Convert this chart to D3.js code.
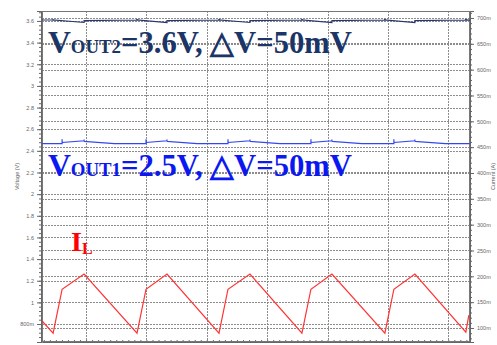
<!DOCTYPE html>
<html>
<head>
<meta charset="utf-8">
<script src="https://cdn.jsdelivr.net/npm/d3@7"></script>
<style>
  body { margin: 0; background: #fff; }
  svg { display: block; }
</style>
</head>
<body>
<div id="chart"></div>
<script>
// tick values for the two y axes
const voltTicks = [0.8, 1.0, 1.2, 1.4, 1.6, 1.8, 2.0, 2.2, 2.4, 2.6, 2.8, 3.0, 3.2, 3.4, 3.6];
const currTicks = [100, 150, 200, 250, 300, 350, 400, 450, 500, 550, 600, 650, 700]; // mA
const timeTicks = [1, 2, 3, 4, 5, 6, 7]; // us

// inductor current IL (mA)
const ilTime = [0.272, 0.454, 0.603, 0.967, 1.844, 1.993, 2.341, 3.202, 3.351, 3.715,
  4.576, 4.725, 5.073, 5.950, 6.099, 6.447, 7.291, 7.341];
const ilValue = [113.5, 90, 175, 204.5, 90, 175, 204.5, 90, 175, 204.5,
  90, 175, 204.5, 90, 175, 204.5, 92, 125];

// VOUT2 (V)
const vout2Time = [0.272,
  0.454, 0.454, 0.454, 0.454,
  0.967, 0.967, 0.967, 0.967,
  1.844, 1.844, 1.844, 1.844,
  2.341, 2.341, 2.341, 2.341,
  3.202, 3.202, 3.202, 3.202,
  3.715, 3.715, 3.715, 3.715,
  4.576, 4.576, 4.576, 4.576,
  5.073, 5.073, 5.073, 5.073,
  5.950, 5.950, 5.950, 5.950,
  6.447, 6.447, 6.447, 6.447,
  7.291, 7.291, 7.291, 7.291,
  7.358];
const vout2Value = [3.609,
  3.609, 3.618, 3.602, 3.609,
  3.586, 3.595, 3.580, 3.603,
  3.609, 3.619, 3.602, 3.609,
  3.586, 3.595, 3.580, 3.603,
  3.609, 3.619, 3.602, 3.609,
  3.586, 3.595, 3.580, 3.603,
  3.609, 3.619, 3.602, 3.609,
  3.586, 3.595, 3.580, 3.603,
  3.609, 3.619, 3.602, 3.609,
  3.586, 3.595, 3.580, 3.603,
  3.609, 3.619, 3.602, 3.609,
  3.607];

// VOUT1 (V)
const vout1Time = [0.272,
  0.603, 0.603, 0.603, 0.603, 0.967, 0.967, 0.967, 0.967, 1.47,
  1.993, 1.993, 1.993, 1.993, 2.341, 2.341, 2.341, 2.341, 2.84,
  3.351, 3.351, 3.351, 3.351, 3.715, 3.715, 3.715, 3.715, 4.21,
  4.725, 4.725, 4.725, 4.725, 5.073, 5.073, 5.073, 5.073, 5.57,
  6.099, 6.099, 6.099, 6.099, 6.447, 6.447, 6.447, 6.447, 6.95,
  7.358];
const vout1Value = [2.467,
  2.467, 2.508, 2.470, 2.477, 2.493, 2.505, 2.486, 2.488, 2.467,
  2.467, 2.508, 2.470, 2.477, 2.493, 2.505, 2.486, 2.488, 2.467,
  2.467, 2.508, 2.470, 2.477, 2.493, 2.505, 2.486, 2.488, 2.467,
  2.467, 2.508, 2.470, 2.477, 2.493, 2.505, 2.486, 2.488, 2.467,
  2.467, 2.508, 2.470, 2.477, 2.493, 2.505, 2.486, 2.488, 2.467,
  2.466];

const W = 497, H = 345;
const pL = 42, pR = 470, pT = 11, pB = 342;

const svg = d3.select("#chart").append("svg")
  .attr("width", W).attr("height", H);

const x = d3.scaleLinear().domain([0.27, 7.36]).range([pL, pR]);
const yV = d3.scaleLinear().domain([0.634, 3.692]).range([pB, pT]);
const yI = d3.scaleLinear().domain([72.9, 713.5]).range([pB, pT]);

// grid
const grid = svg.append("g")
  .attr("stroke", "#8c8c8c").attr("stroke-width", 1)
  .attr("stroke-dasharray", "2,1").attr("shape-rendering", "crispEdges");
grid.selectAll(".gv").data(voltTicks).join("line")
  .attr("x1", pL).attr("x2", pR)
  .attr("y1", d => Math.round(yV(d)) + 0.5).attr("y2", d => Math.round(yV(d)) + 0.5);
grid.selectAll(".gi").data(currTicks).join("line")
  .attr("x1", pL).attr("x2", pR)
  .attr("y1", d => Math.round(yI(d)) + 0.5).attr("y2", d => Math.round(yI(d)) + 0.5);
grid.selectAll(".gt").data(timeTicks).join("line")
  .attr("y1", pT).attr("y2", pB)
  .attr("x1", d => Math.round(x(d)) + 0.5).attr("x2", d => Math.round(x(d)) + 0.5);

// axes
const fmtV = d => d < 1 ? Math.round(d * 1000) + "m" : d3.format("~g")(d);
svg.append("g")
  .attr("transform", `translate(${pL - 1},0)`)
  .call(d3.axisLeft(yV).tickValues(voltTicks).tickFormat(fmtV).tickSize(4).tickPadding(3));
svg.append("g")
  .attr("transform", `translate(${pL - 1},0)`)
  .call(d3.axisLeft(yV).tickValues(d3.range(0.68, 3.69, 0.04)).tickFormat("").tickSize(2));

svg.append("g")
  .attr("transform", `translate(${pR},0)`)
  .call(d3.axisRight(yI).tickValues(currTicks).tickFormat(d => d + "m").tickSize(4).tickPadding(3));
svg.append("g")
  .attr("transform", `translate(${pR},0)`)
  .call(d3.axisRight(yI).tickValues(d3.range(80, 711, 10)).tickFormat("").tickSize(2));

svg.append("g")
  .attr("transform", `translate(0,${pB})`)
  .call(d3.axisTop(x).tickValues(d3.range(0.3, 7.36, 0.1)).tickFormat("").tickSize(2));

svg.selectAll(".domain").attr("stroke", "#666");
svg.selectAll(".tick line").attr("stroke", "#666");
svg.selectAll(".tick text")
  .attr("font-family", "Liberation Sans, sans-serif")
  .attr("font-size", 5.5).attr("fill", "#666");

// frame
svg.append("rect")
  .attr("x", pL + 0.5).attr("y", pT + 0.5)
  .attr("width", pR - pL - 1).attr("height", pB - pT - 1)
  .attr("fill", "none").attr("stroke", "#777").attr("stroke-width", 1);

// axis titles
svg.append("text")
  .attr("transform", `translate(19,${(pT + pB) / 2}) rotate(-90)`)
  .attr("text-anchor", "middle")
  .attr("font-family", "Liberation Sans, sans-serif").attr("font-size", 5.5).attr("fill", "#666")
  .text("Voltage (V)");
svg.append("text")
  .attr("transform", `translate(495,${(pT + pB) / 2}) rotate(-90)`)
  .attr("text-anchor", "middle")
  .attr("font-family", "Liberation Sans, sans-serif").attr("font-size", 5.5).attr("fill", "#666")
  .text("Current (A)");

// series
const lineV = d3.line().x(d => x(d[0])).y(d => yV(d[1]));
const lineI = d3.line().x(d => x(d[0])).y(d => yI(d[1]));

svg.append("path")
  .datum(d3.zip(vout2Time, vout2Value))
  .attr("d", lineV).attr("fill", "none")
  .attr("stroke", "#283670").attr("stroke-width", 1.2);
svg.append("path")
  .datum(d3.zip(vout1Time, vout1Value))
  .attr("d", lineV).attr("fill", "none")
  .attr("stroke", "#3347ee").attr("stroke-width", 1.2);
svg.append("path")
  .datum(d3.zip(ilTime, ilValue))
  .attr("d", lineI).attr("fill", "none")
  .attr("stroke", "#ff3333").attr("stroke-width", 1.2);

// annotations
function label(px, py, color, sub, rest, len) {
  const t = svg.append("text")
    .attr("x", px).attr("y", py)
    .attr("font-family", "Liberation Serif, Times New Roman, serif")
    .attr("font-weight", "bold").attr("fill", color)
    .attr("textLength", len).attr("lengthAdjust", "spacingAndGlyphs");
  t.append("tspan").attr("font-size", 32).text("V");
  t.append("tspan").attr("font-size", 19).text(sub);
  t.append("tspan").attr("font-size", 31).text(rest);
}
label(48, 53, "#1b3567", "OUT2", "=3.6V, \u25B3V=50mV", 304);
label(48, 176, "#0c18f2", "OUT1", "=2.5V, \u25B3V=50mV", 304);

const il = svg.append("text")
  .attr("x", 71).attr("y", 251)
  .attr("font-family", "Liberation Serif, Times New Roman, serif")
  .attr("font-weight", "bold").attr("fill", "#ff0000");
il.append("tspan").attr("font-size", 28).text("I");
il.append("tspan").attr("font-size", 16).attr("dy", 3).text("L");
</script>
</body>
</html>
